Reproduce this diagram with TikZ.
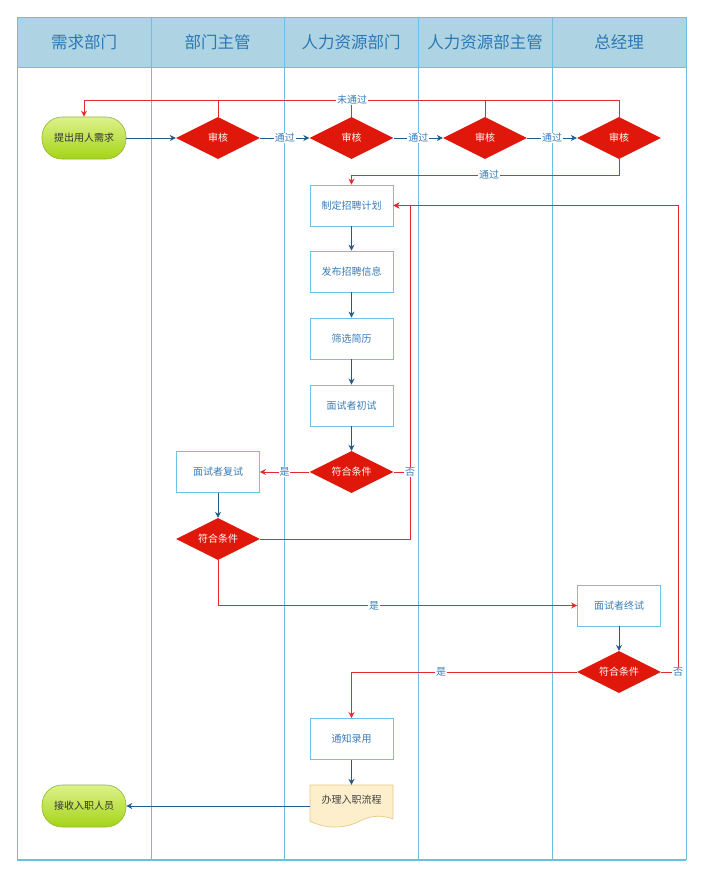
\documentclass[tikz,border=0pt]{standalone}
\usepackage{fontspec}
\setmainfont{Noto Sans CJK SC}
\usetikzlibrary{shapes.geometric,arrows.meta}
\definecolor{laneC}{HTML}{6BBFE3}
\definecolor{headC}{HTML}{AED4E4}
\definecolor{headT}{HTML}{2C78B4}
\definecolor{boxC}{HTML}{6CC3E6}
\definecolor{txtC}{HTML}{3A7DB8}
\definecolor{decC}{HTML}{E0180C}
\definecolor{blueA}{HTML}{1F5C8C}
\definecolor{redA}{HTML}{E32A2E}
\definecolor{docF}{HTML}{FDEFCB}
\definecolor{docD}{HTML}{E6CB86}
\definecolor{termD}{HTML}{8DB82A}
\definecolor{termT}{HTML}{DDF28C}
\definecolor{termB}{HTML}{A4D416}
\tikzset{
  laneline/.style={draw=laneC,line width=0.8pt},
  headtext/.style={text=headT,font=\fontsize{16.5}{18}\selectfont},
  proc/.style={draw=boxC,line width=0.8pt,fill=white,minimum width=83pt,minimum height=41pt,inner sep=0pt,text=txtC,font=\fontsize{10}{12}\selectfont},
  dectext/.style={inner sep=0pt,text=white,font=\fontsize{10}{12}\selectfont},
  dec/.style={diamond,fill=decC,draw=none,minimum width=84pt,minimum height=42pt,inner sep=0pt,label={[dectext]center:#1}},
  term/.style={rectangle,rounded corners=20pt,draw=termD,line width=0.6pt,top color=termT,bottom color=termB,minimum width=84pt,minimum height=42pt,inner sep=0pt,text=black!80,font=\fontsize{10}{12}\selectfont},
  docnode/.style={minimum width=83pt,minimum height=42pt,inner sep=0pt},
  doctext/.style={inner sep=0pt,text=black!75,font=\fontsize{10}{12}\selectfont},
  barrow/.style={draw=blueA,line width=0.9pt,-{Stealth[length=6pt,width=6pt]}},
  rarrow/.style={draw=redA,line width=0.9pt,-{Stealth[length=6pt,width=6pt]}},
  rline/.style={draw=redA,line width=0.9pt},
  lbl/.style={fill=white,inner sep=0.8pt,text=txtC,font=\fontsize{10}{12}\selectfont},
}
\begin{document}
\begin{tikzpicture}[x=1pt,y=-1pt]
\useasboundingbox (0,0) rectangle (703,879);
\fill[white] (0,0) rectangle (703,879);
% header
\fill[headC] (17,17) rectangle (686,67);
\foreach \xx in {17,151,284,418,552,686} {\draw[laneline] (\xx,17) -- (\xx,860);}
\draw[laneline] (17,17) -- (686,17);
\draw[laneline] (17,67) -- (686,67);
\draw[laneline,line width=1.5pt] (17,860) -- (686,860);
\node[headtext] (h1) at (84,42) {需求部门};
\node[headtext] (h2) at (217.5,42) {部门主管};
\node[headtext] (h3) at (351,42) {人力资源部门};
\node[headtext] (h4) at (485,42) {人力资源部主管};
\node[headtext] (h5) at (619,42) {总经理};
% nodes
\node[term] (start) at (84,138) {提出用人需求};
\node[dec=审核] (d1) at (218,138) {};
\node[dec=审核] (d2) at (351.5,138) {};
\node[dec=审核] (d3) at (485,138) {};
\node[dec=审核] (d4) at (619,138) {};
\node[proc] (p1) at (351.5,205.5) {制定招聘计划};
\node[proc] (p2) at (351.5,271.5) {发布招聘信息};
\node[proc] (p3) at (351.5,338.5) {筛选简历};
\node[proc] (p4) at (351.5,405.5) {面试者初试};
\node[dec=符合条件] (q1) at (351.5,472) {};
\node[proc] (r1) at (218,472) {面试者复试};
\node[dec=符合条件] (q2) at (218,539) {};
\node[proc] (r2) at (619,605.5) {面试者终试};
\node[dec=符合条件] (q3) at (619,672) {};
\node[proc] (n1) at (351.5,739) {通知录用};
\node[docnode] (doc) at (351.5,806) {};
\filldraw[fill=docF,draw=docD,line width=0.7pt] (310,785) -- (393,785) -- (393,819)
  .. controls (382,815) and (372,815) .. (360,821)
  .. controls (345,829) and (325,829) .. (310,821) -- cycle;
\node[doctext] (doct) at (351.5,800) {办理入职流程};
\node[term] (endn) at (84,806) {接收入职人员};
% coordinates
\coordinate (nt) at (84,100);
\coordinate (c4) at (619,175);
\coordinate (kx) at (410,472);
\coordinate (ky) at (410,539);
\coordinate (kz) at (410,205.5);
\coordinate (m2) at (218,605.5);
\coordinate (zx) at (678,672);
\coordinate (zy) at (678,205.5);
\coordinate (yy) at (351.5,672);
% top row
\draw[barrow] (start) -- (d1);
\draw[barrow] (d1) -- (d2) node[lbl,midway] (l1) {通过};
\draw[barrow] (d2) -- (d3) node[lbl,midway] (l2) {通过};
\draw[barrow] (d3) -- (d4) node[lbl,midway] (l3) {通过};
% not passed
\draw[rline] (d1.north) -- (d1.north |- nt);
\draw[rline] (d2.north) -- (d2.north |- nt);
\draw[rline] (d3.north) -- (d3.north |- nt);
\draw[rarrow] (d4.north) |- (nt) -- (start.north);
\node[lbl] (l4) at (352,100) {未通过};
% passed to plan
\draw[rarrow] (d4.south) -- (c4) -| (p1.north);
\node[lbl] (l5) at (489,175) {通过};
% process chain
\draw[barrow] (p1) -- (p2);
\draw[barrow] (p2) -- (p3);
\draw[barrow] (p3) -- (p4);
\draw[barrow] (p4) -- (q1);
% q1
\draw[rarrow] (q1.west) -- (r1.east) node[lbl,midway] (l6) {是};
\draw[rline] (q2.east) -- (ky) -- (kx);
\draw[rarrow] (q1.east) -- (kx) -- (kz) -- (p1.east);
\node[lbl] (l7) at (kx) {否};
% q2
\draw[barrow] (r1) -- (q2);
\draw[rarrow] (q2.south) -- (m2) -- (r2.west);
\node[lbl] (l8) at (374,605.5) {是};
% q3
\draw[barrow] (r2) -- (q3);
\draw[rarrow] (q3.east) -- (zx) -- (zy) -- (p1.east);
\node[lbl] (l9) at (zx) {否};
\draw[rarrow] (q3.west) -- (yy) -- (n1.north);
\node[lbl] (l10) at (441,672) {是};
% end
\draw[barrow] (n1) -- (doc.north);
\draw[barrow] (doc.west) -- (endn.east);
\end{tikzpicture}
\end{document}
